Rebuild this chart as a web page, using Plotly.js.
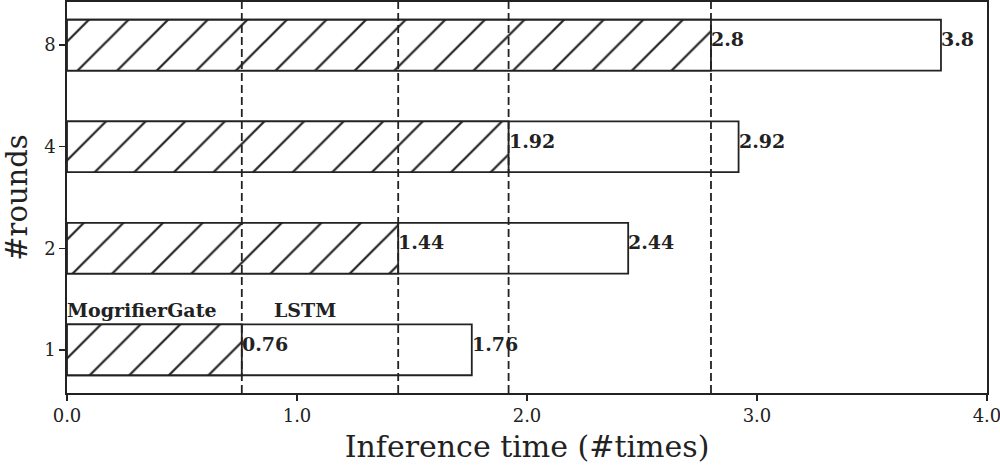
<!DOCTYPE html>
<html>
<head>
<meta charset="utf-8">
<script src="https://cdn.plot.ly/plotly-3.0.1.min.js"></script>
<style>
  body { margin: 0; background: #fff; }
  #chart { width: 1000px; height: 465px; }
</style>
</head>
<body>
<div id="chart"></div>
<script>
const rounds = ['1', '2', '4', '8']
const mogrifierTimes = [0.76, 1.44, 1.92, 2.8]
const lstmTimes = [1.76, 2.44, 2.92, 3.8]
const xTicks = [0, 1, 2, 3, 4]
const xTickLabels = ['0.0', '1.0', '2.0', '3.0', '4.0']

const serif = 'DejaVu Serif, serif'
const ink = '#222'
const boldFont = {family: serif, size: 19, color: ink, weight: 'bold'}

// white bar for LSTM, hatched bar for MogrifierGate drawn on top
const data = [{
    type: 'bar',
    orientation: 'h',
    name: 'LSTM',
    x: lstmTimes,
    y: rounds,
    width: 0.5,
    marker: {color: 'white', line: {color: ink, width: 1.8}},
    hoverinfo: 'x'
  }, {
    type: 'bar',
    orientation: 'h',
    name: 'MogrifierGate',
    x: mogrifierTimes,
    y: rounds,
    width: 0.5,
    marker: {
      color: 'white',
      line: {color: ink, width: 1.8},
      pattern: {shape: '/', size: 28, solidity: 0.08, fgcolor: ink, bgcolor: 'white'}
    },
    hoverinfo: 'x'
  }]

// category axis: annotations use the category index
const annotations = []
for (let i = 0; i < rounds.length; i++){
    annotations.push({
        x: mogrifierTimes[i], y: i, xref: 'x', yref: 'y',
        text: String(mogrifierTimes[i]), showarrow: false,
        xanchor: 'left', yanchor: 'middle', xshift: -2, yshift: 6,
        font: boldFont
    })
    annotations.push({
        x: lstmTimes[i], y: i, xref: 'x', yref: 'y',
        text: String(lstmTimes[i]), showarrow: false,
        xanchor: 'left', yanchor: 'middle', xshift: -2, yshift: 6,
        font: boldFont
    })
}
// legend-like labels above the first bar
annotations.push({
    x: 0, y: 0.26, xref: 'x', yref: 'y', text: 'MogrifierGate', showarrow: false,
    xanchor: 'left', yanchor: 'bottom', xshift: -2, font: boldFont
})
annotations.push({
    x: 0.9, y: 0.26, xref: 'x', yref: 'y', text: 'LSTM', showarrow: false,
    xanchor: 'left', yanchor: 'bottom', xshift: -2, font: boldFont
})

const shapes = mogrifierTimes.map(v => ({
    type: 'line', xref: 'x', yref: 'paper', x0: v, x1: v, y0: 0, y1: 1,
    line: {color: ink, width: 1.8, dash: '8px,4px'}, layer: 'above'
}))

const layout = {
    width: 1000,
    height: 465,
    margin: {l: 67, r: 13, t: 2, b: 72},
    barmode: 'overlay',
    showlegend: false,
    plot_bgcolor: 'white',
    paper_bgcolor: 'white',
    font: {family: serif, color: ink},
    xaxis: {
      range: [0, 4.0001],
      tickvals: xTicks,
      ticktext: xTickLabels,
      ticklabeloverflow: 'allow',
      ticks: 'outside', ticklen: 6, tickwidth: 1.5, tickcolor: ink,
      showline: true, linecolor: ink, linewidth: 1.8, mirror: true,
      showgrid: false, zeroline: false,
      tickfont: {family: serif, size: 18, color: ink},
      title: {text: 'Inference time (#times)', font: {family: serif, size: 30, color: ink}, standoff: 10}
    },
    yaxis: {
      type: 'category',
      range: [-0.425, 3.425],
      ticks: 'outside', ticklen: 6, tickwidth: 1.5, tickcolor: ink,
      showline: true, linecolor: ink, linewidth: 1.8, mirror: true,
      showgrid: false, zeroline: false,
      tickfont: {family: serif, size: 18, color: ink},
      title: {text: '#rounds', font: {family: serif, size: 29, color: ink}, standoff: 14}
    },
    annotations: annotations,
    shapes: shapes
}

Plotly.newPlot('chart', data, layout, {displayModeBar: false, staticPlot: true})
</script>
</body>
</html>
